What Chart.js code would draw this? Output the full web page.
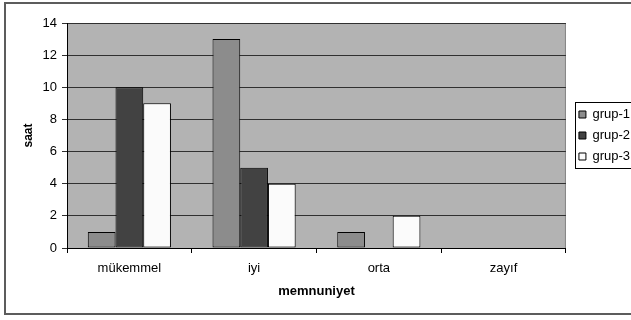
<!DOCTYPE html>
<html>
<head>
<meta charset="utf-8">
<title>memnuniyet</title>
<script src="https://cdn.jsdelivr.net/npm/chart.js@4.4.1/dist/chart.umd.min.js"></script>
<style>
    body { margin: 0; background: #fff; }
    #wrap { position: relative; width: 631px; height: 320px; overflow: hidden; }
    #frame { position: absolute; left: 4px; top: 2px; width: 640px; height: 309px; border: 2px solid #5c5c5c; }
    #chart { position: absolute; left: 0; top: 0; }
</style>
</head>
<body>
<div id="wrap">
    <div id="frame"></div>
    <canvas id="chart" width="631" height="320"></canvas>
</div>
<script>
const categories = ['mükemmel', 'iyi', 'orta', 'zayıf'];
const grup1 = [1, 13, 1, 0];
const grup2 = [10, 5, 0, 0];
const grup3 = [9, 4, 2, 0];
const yTicks = [0, 2, 4, 6, 8, 10, 12, 14];

const family = "'Liberation Sans', Arial, sans-serif";
const font = { family: family, size: 13 };

// grey plot background with a light outline on the right edge
const plotBg = {
    id: 'plotBg',
    beforeDraw(chart) {
        const { ctx, chartArea: a } = chart;
        ctx.save();
        ctx.fillStyle = '#b3b3b3';
        ctx.fillRect(a.left, a.top, a.right - a.left, a.bottom - a.top);
        ctx.strokeStyle = '#858585';
        ctx.lineWidth = 1;
        ctx.strokeRect(a.left + 0.5, a.top + 0.5, a.right - a.left - 1, a.bottom - a.top);
        ctx.restore();
    }
};

// push the legend a bit to the right and draw its box
const legendBox = {
    id: 'legendBox',
    afterLayout(chart) {
        chart.legend.left += 5;
        chart.legend.right += 5;
    },
    afterDraw(chart) {
        const hb = chart.legend.legendHitBoxes;
        if (!hb || !hb.length) return;
        const { ctx } = chart;
        const x = Math.round(hb[0].left) - 3.5;
        const top = Math.round(hb[0].top) - 5.5;
        const last = hb[hb.length - 1];
        const bottom = Math.round(last.top + last.height) + 5.5;
        ctx.save();
        ctx.strokeStyle = '#000';
        ctx.lineWidth = 1;
        ctx.strokeRect(x, top, chart.width + 10 - x, bottom - top);
        ctx.restore();
    }
};

new Chart(document.getElementById('chart'), {
    type: 'bar',
    data: {
        labels: categories,
        datasets: [
            { label: 'grup-1', data: grup1, backgroundColor: '#8c8c8c' },
            { label: 'grup-2', data: grup2, backgroundColor: '#424242' },
            { label: 'grup-3', data: grup3, backgroundColor: '#fbfbfb' }
        ]
    },
    options: {
        responsive: false,
        animation: false,
        devicePixelRatio: 1,
        layout: { padding: { top: 23, left: 0, right: -4, bottom: 0 } },
        datasets: {
            bar: {
                categoryPercentage: 2 / 3,
                barPercentage: 1,
                borderColor: '#000',
                borderWidth: 1,
                borderSkipped: false
            }
        },
        plugins: {
            tooltip: { enabled: false },
            legend: {
                position: 'right',
                fullSize: false,
                labels: {
                    boxWidth: 7,
                    boxHeight: 7,
                    padding: 8,
                    color: '#000',
                    font: font
                }
            }
        },
        scales: {
            x: {
                grid: {
                    drawOnChartArea: false,
                    drawTicks: true,
                    tickLength: 5,
                    color: '#000'
                },
                border: { color: '#000', width: 1 },
                ticks: { color: '#000', font: font, padding: 8, maxRotation: 0 },
                title: {
                    display: true,
                    text: 'memnuniyet',
                    color: '#000',
                    font: { family: family, size: 13, weight: 'bold' },
                    padding: { top: 0, bottom: 21 }
                },
                afterFit: (scale) => { scale.height = 72; }
            },
            y: {
                min: 0,
                max: 14,
                afterBuildTicks: (scale) => { scale.ticks = yTicks.map(v => ({ value: v })); },
                grid: { color: '#303030', lineWidth: 1, tickLength: 5 },
                border: { color: '#000', width: 1 },
                ticks: { color: '#000', font: font, padding: 5 },
                title: {
                    display: true,
                    text: 'saat',
                    color: '#000',
                    font: { family: family, size: 12, weight: 'bold' },
                    padding: { top: 21, bottom: 0 }
                },
                afterFit: (scale) => { scale.width = 67; }
            }
        }
    },
    plugins: [plotBg, legendBox]
});
</script>
</body>
</html>
